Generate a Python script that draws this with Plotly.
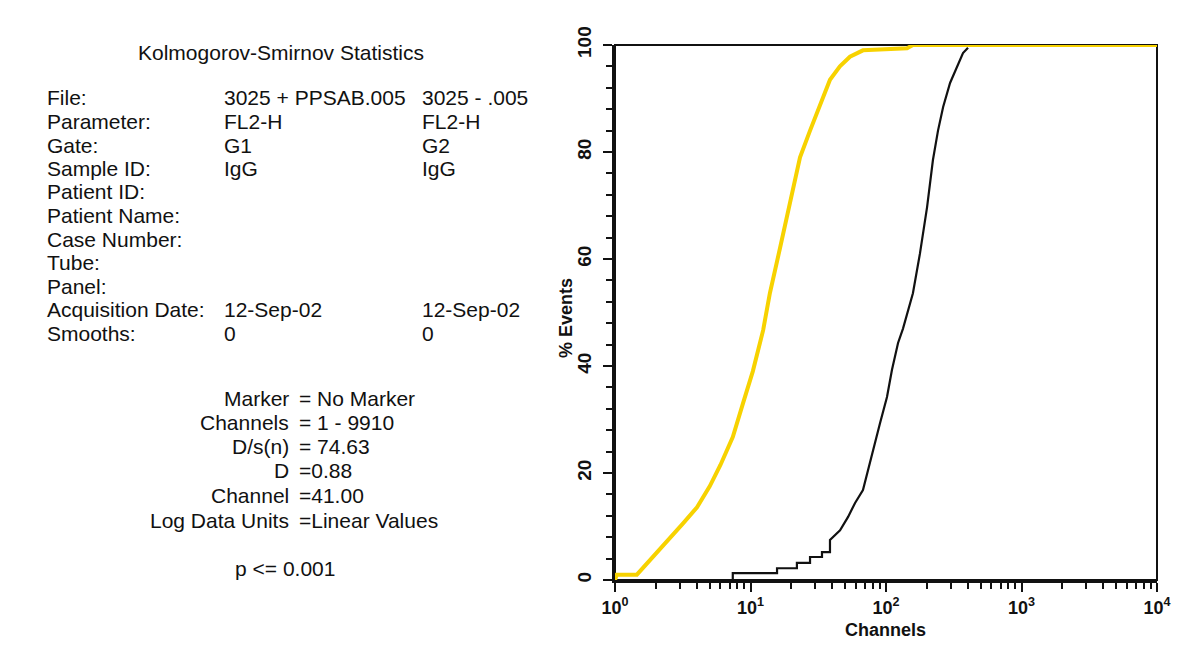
import plotly.graph_objects as go

# Canvas and plot-area geometry (pixels)
W, H = 1201, 650
PL, PR, PT, PB = 615, 1157, 45, 580

# Cumulative distributions (% of events below channel)
yellow_channels = [1.0, 1.03, 1.45, 1.81, 2.42, 3.18, 4.03, 5.0, 6.0, 7.4, 8.8, 10.4, 12.4,
                   13.9, 16.5, 19.6, 23.2, 27.5, 32.6, 38.6, 45.7, 54.2, 67.6, 143, 158, 10000]
yellow_pct = [0, 1.0, 1.0, 3.7, 7.0, 10.6, 13.6, 17.5, 21.5, 26.7, 33, 39, 46.7,
              53.6, 62, 71, 79, 84, 89, 93.5, 96, 97.8, 99, 99.4, 100, 100]

black_channels = [1.0, 7.4, 7.4, 15.7, 15.7, 22.0, 22.0, 27.5, 27.5, 33.7, 33.7, 38.6, 38.6,
                  45.8, 52.5, 59.1, 67.6, 73.6, 80.2, 90.3, 101.7, 110.7, 122.7, 133.5,
                  158, 178, 201, 222, 242, 264, 297, 334, 370, 403]
black_pct = [0, 0, 1.3, 1.3, 2.2, 2.2, 3.2, 3.2, 4.3, 4.3, 5.2, 5.2, 7.5,
             9.3, 11.8, 14.4, 16.8, 20.6, 24.3, 29.3, 34.2, 39.3, 44.3, 47.0,
             53.6, 61, 69.7, 78.5, 84, 88.4, 92.9, 96, 98.5, 99.5]

# Axis ticks
x_tickvals = [1, 10, 100, 1000, 10000]
x_ticktext = ["10<sup>0</sup>", "10<sup>1</sup>", "10<sup>2</sup>", "10<sup>3</sup>", "10<sup>4</sup>"]
y_tickvals = [0, 20, 40, 60, 80, 100]
y_ticktext = ["0", "20", "40", "60", "80", "100"]

# Statistics panel text
title_text = "Kolmogorov-Smirnov Statistics"
info_labels = ["File:", "Parameter:", "Gate:", "Sample ID:", "Patient ID:", "Patient Name:",
               "Case Number:", "Tube:", "Panel:", "Acquisition Date:", "Smooths:"]
info_col1 = ["3025 + PPSAB.005", "FL2-H", "G1", "IgG", "", "", "", "", "", "12-Sep-02", "0"]
info_col2 = ["3025 - .005", "FL2-H", "G2", "IgG", "", "", "", "", "", "12-Sep-02", "0"]
stat_names = ["Marker", "Channels", "D/s(n)", "D", "Channel", "Log Data Units"]
stat_values = ["= No Marker", "= 1 - 9910", "= 74.63", "=0.88", "=41.00", "=Linear Values"]
p_text = "p &lt;= 0.001"

FONT = "Liberation Sans, Arial, sans-serif"
TXT = 21
INK = "#111111"


def fx(px):
    return (px - PL) / (PR - PL)


def fy(py):
    return (PB - py) / (PB - PT)


fig = go.Figure()
fig.add_trace(go.Scatter(x=black_channels, y=black_pct, mode="lines",
                         line=dict(color=INK, width=2.2), showlegend=False))
fig.add_trace(go.Scatter(x=yellow_channels, y=yellow_pct, mode="lines",
                         line=dict(color="#F7D200", width=4), showlegend=False))

ann = []


def add_text(text, px, py, anchor="left", size=TXT, angle=0, weight="normal"):
    ann.append(dict(text=text, x=fx(px), y=fy(py), xref="paper", yref="paper",
                    xanchor=anchor, yanchor="middle", showarrow=False, textangle=angle,
                    font=dict(family=FONT, size=size, color=INK, weight=weight)))


add_text(title_text, 281, 52, anchor="center")
row0, step = 98, 23.5
for i, lab in enumerate(info_labels):
    y = row0 + i * step
    add_text(lab, 45, y)
    if info_col1[i]:
        add_text(info_col1[i], 222, y)
    if info_col2[i]:
        add_text(info_col2[i], 420, y)

stat_y = [399, 422, 446, 470, 495, 520]
for name, val, y in zip(stat_names, stat_values, stat_y):
    add_text(name, 291, y, anchor="right")
    add_text(val, 297, y, anchor="left")
add_text(p_text, 285, 568, anchor="center")

# Axis titles
add_text("% Events", 566, 318, anchor="center", size=18, angle=-90, weight="bold")
add_text("Channels", 885, 630, anchor="center", size=18, weight="bold")

x_font = dict(family=FONT, size=18, color=INK, weight="bold")
y_font = dict(family=FONT, size=19, color=INK, weight="bold")
fig.update_layout(
    width=W, height=H,
    margin=dict(l=PL, r=W - PR, t=PT, b=H - PB, autoexpand=False),
    paper_bgcolor="white", plot_bgcolor="white",
    annotations=ann,
    shapes=[dict(type="rect", xref="x domain", yref="y domain", x0=0, x1=1, y0=0, y1=1,
                 line=dict(color=INK, width=2), layer="below")],
    xaxis=dict(type="log", range=[0, 4], showgrid=False, zeroline=False,
               showline=True, linecolor=INK, linewidth=3,
               tickvals=x_tickvals, ticktext=x_ticktext, ticks="outside",
               ticklen=9, tickwidth=2, tickcolor=INK, tickfont=x_font,
               minor=dict(dtick="D1", ticks="outside", ticklen=6, tickwidth=2,
                          tickcolor=INK, showgrid=False)),
    yaxis=dict(range=[0, 100], showgrid=False, zeroline=False,
               showline=True, linecolor=INK, linewidth=3,
               tickvals=y_tickvals, ticktext=y_ticktext, ticks="outside",
               ticklen=9, tickwidth=2, tickcolor=INK, tickfont=y_font,
               tickangle=-90, ticklabelstandoff=4,
               minor=dict(dtick=4, ticks="outside", ticklen=6, tickwidth=2,
                          tickcolor=INK, showgrid=False)),
)

fig.write_html("out.html")
